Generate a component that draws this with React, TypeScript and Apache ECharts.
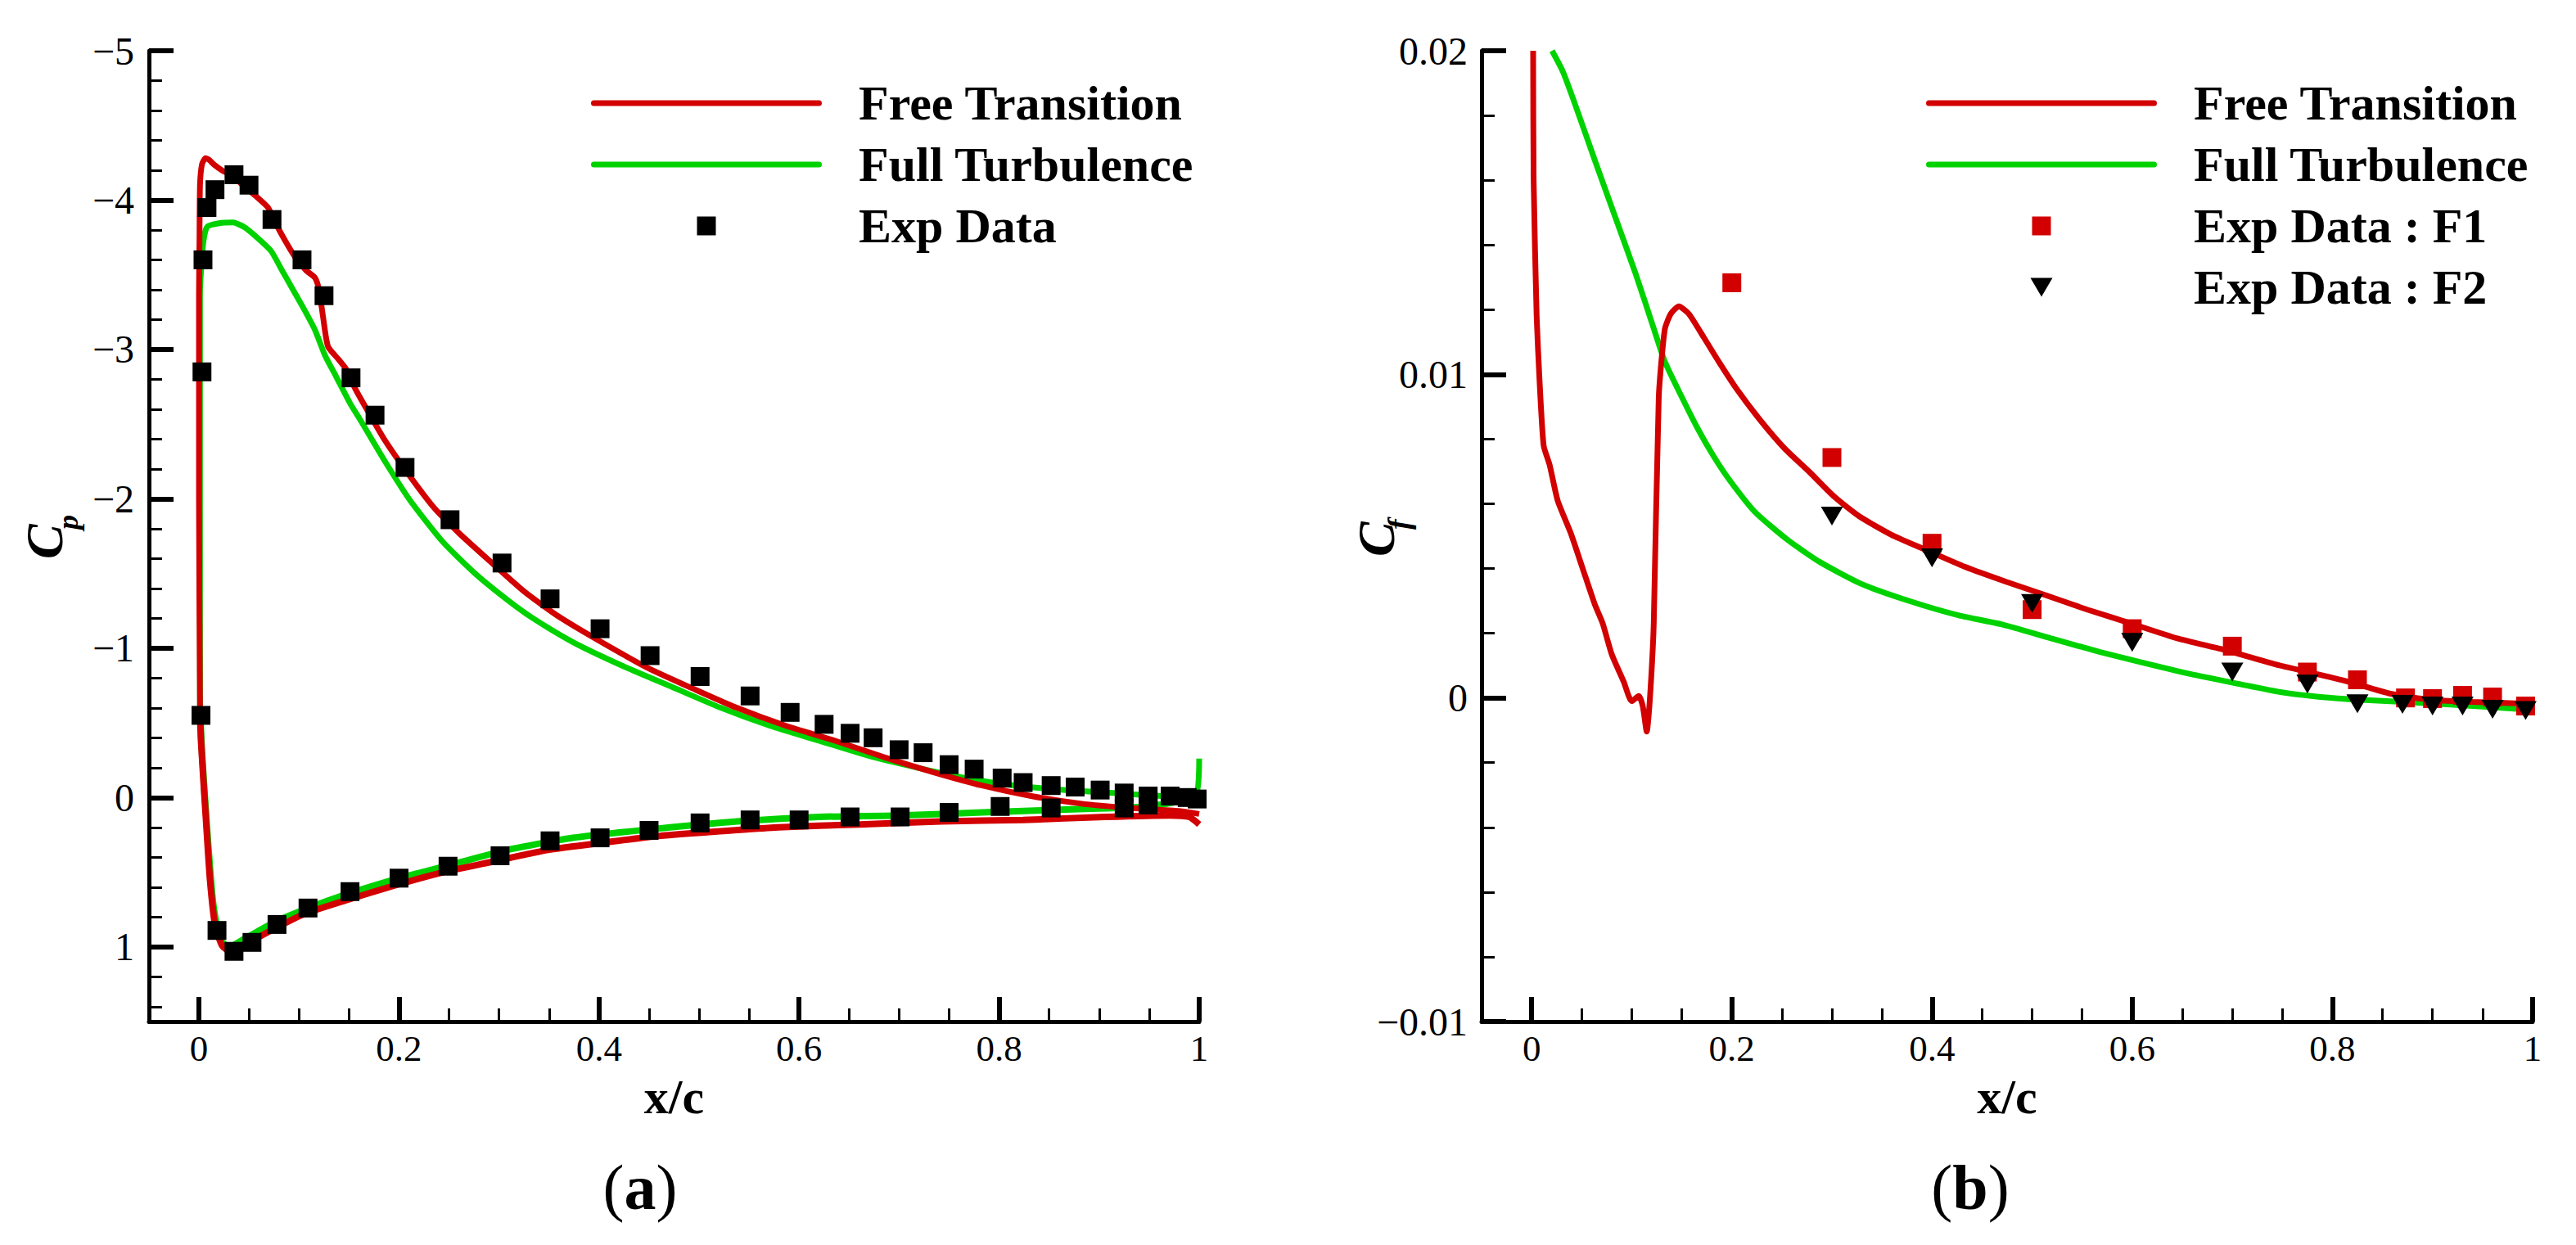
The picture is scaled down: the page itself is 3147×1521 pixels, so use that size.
import React, { useEffect, useRef } from "react";
import * as echarts from "echarts";

const W = 3147;
const H = 1521;
const RED = "#d20000";
const GREEN = "#00d200";
const FONT = "'Liberation Serif', 'Times New Roman', serif";

// ---- tick values ----
const xMajorTicks = [0, 0.2, 0.4, 0.6, 0.8, 1];
const xMinorTicks = [0.05, 0.1, 0.15, 0.25, 0.3, 0.35, 0.45, 0.5, 0.55, 0.65, 0.7, 0.75, 0.85, 0.9, 0.95];
const cpMajorTicks = [-5, -4, -3, -2, -1, 0, 1];
const cpMinorTicks = [-4.8, -4.6, -4.4, -4.2, -3.8, -3.6, -3.4, -3.2, -2.8, -2.6, -2.4, -2.2, -1.8, -1.6, -1.4, -1.2, -0.8, -0.6, -0.4, -0.2, 0.2, 0.4, 0.6, 0.8, 1.2, 1.4];
const cfMajorTicks = [-0.01, 0, 0.01, 0.02];
const cfMinorTicks = [-0.008, -0.006, -0.004, -0.002, 0.002, 0.004, 0.006, 0.008, 0.012, 0.014, 0.016, 0.018];

// ---- (a) pressure coefficient ----
const ftCpUpper: [number, number][] = [
  [0.001, -0.6], [0.0, -2.0], [0.0, -3.37], [0.0005, -3.73], [0.001, -4.1], [0.003, -4.24], [0.0065, -4.28],
  [0.01, -4.27], [0.0147, -4.24], [0.0229, -4.2], [0.034, -4.16], [0.047, -4.08], [0.058, -4.02], [0.069, -3.95],
  [0.077, -3.84], [0.086, -3.73], [0.096, -3.62], [0.107, -3.53], [0.116, -3.48], [0.12, -3.4], [0.124, -3.22],
  [0.129, -3.02], [0.14, -2.93], [0.147, -2.87], [0.156, -2.74], [0.166, -2.62], [0.186, -2.39], [0.211, -2.15],
  [0.235, -1.94], [0.26, -1.77], [0.293, -1.57], [0.325, -1.38], [0.36, -1.21], [0.4, -1.05], [0.448, -0.87],
  [0.497, -0.72], [0.538, -0.6], [0.587, -0.48], [0.636, -0.38], [0.685, -0.27], [0.734, -0.17], [0.783, -0.08],
  [0.832, -0.01], [0.881, 0.04], [0.93, 0.07], [0.98, 0.09], [1.0, 0.11],
];
const ftCpLower: [number, number][] = [
  [1.0, 0.18], [0.99, 0.13], [0.971, 0.12], [0.906, 0.13], [0.824, 0.15], [0.742, 0.16], [0.661, 0.18],
  [0.579, 0.2], [0.513, 0.23], [0.456, 0.26], [0.407, 0.3], [0.35, 0.35], [0.293, 0.43], [0.244, 0.5],
  [0.195, 0.59], [0.146, 0.69], [0.105, 0.78], [0.072, 0.89], [0.047, 0.98], [0.031, 1.03], [0.023, 0.99],
  [0.016, 0.85], [0.011, 0.55], [0.007, 0.15], [0.002, -0.38], [0.001, -0.6],
];
const fullCpUpper: [number, number][] = [
  [0.001, -0.6], [0.001, -2.64], [0.001, -3.37], [0.004, -3.7], [0.008, -3.82], [0.02, -3.845], [0.034, -3.85],
  [0.045, -3.82], [0.058, -3.75], [0.072, -3.66], [0.083, -3.53], [0.094, -3.4], [0.105, -3.27], [0.116, -3.13],
  [0.126, -2.96], [0.137, -2.82], [0.151, -2.64], [0.162, -2.52], [0.186, -2.25], [0.211, -1.99], [0.244, -1.71],
  [0.276, -1.5], [0.309, -1.32], [0.334, -1.2], [0.374, -1.04], [0.424, -0.88], [0.473, -0.74], [0.522, -0.6],
  [0.571, -0.48], [0.62, -0.38], [0.669, -0.28], [0.718, -0.2], [0.767, -0.13], [0.816, -0.08], [0.866, -0.05],
  [0.914, -0.03], [0.963, -0.01], [0.996, 0.0], [1.0, -0.26],
];
const fullCpLower: [number, number][] = [
  [1.0, 0.0], [0.948, 0.06], [0.866, 0.08], [0.783, 0.1], [0.7, 0.12], [0.62, 0.13], [0.538, 0.16],
  [0.456, 0.21], [0.374, 0.27], [0.309, 0.35], [0.252, 0.45], [0.195, 0.55], [0.129, 0.69], [0.08, 0.82],
  [0.047, 0.94], [0.03, 1.0], [0.021, 0.95], [0.014, 0.7], [0.008, 0.2], [0.003, -0.3], [0.001, -0.6],
];
const expCp: [number, number][] = [
  [0.003, -2.85], [0.004, -3.6], [0.008, -3.95], [0.016, -4.07], [0.035, -4.17], [0.05, -4.1], [0.073, -3.87],
  [0.103, -3.6], [0.125, -3.36], [0.152, -2.81], [0.176, -2.56], [0.206, -2.21], [0.251, -1.86], [0.303, -1.57],
  [0.351, -1.33], [0.401, -1.13], [0.451, -0.95], [0.501, -0.81], [0.551, -0.68], [0.591, -0.57], [0.625, -0.49],
  [0.651, -0.43], [0.674, -0.4], [0.7, -0.32], [0.724, -0.3], [0.75, -0.22], [0.775, -0.19], [0.803, -0.13],
  [0.824, -0.1], [0.852, -0.08], [0.876, -0.07], [0.901, -0.05], [0.925, -0.03], [0.949, -0.01], [0.971, -0.01],
  [0.988, 0.0], [0.998, 0.01],
  [0.002, -0.55], [0.018, 0.89], [0.035, 1.03], [0.053, 0.97], [0.078, 0.85], [0.109, 0.74], [0.151, 0.63],
  [0.2, 0.54], [0.249, 0.46], [0.301, 0.39], [0.351, 0.29], [0.401, 0.27], [0.45, 0.22], [0.501, 0.17],
  [0.551, 0.15], [0.6, 0.15], [0.651, 0.13], [0.701, 0.13], [0.75, 0.1], [0.801, 0.06], [0.852, 0.07],
  [0.925, 0.07], [0.949, 0.05],
];

// ---- (b) skin friction coefficient ----
const ftCf: [number, number][] = [
  [0.0015, 0.02], [0.002, 0.016], [0.005, 0.0118], [0.008, 0.00975], [0.012, 0.0078], [0.018, 0.0072],
  [0.026, 0.0061], [0.039, 0.0051], [0.051, 0.004], [0.063, 0.0029], [0.071, 0.0023], [0.08, 0.00135],
  [0.092, 0.0005], [0.1, -0.0001], [0.107, 0.00006], [0.111, -0.00025], [0.115, -0.00104], [0.118, -0.0001],
  [0.122, 0.0023], [0.127, 0.0093], [0.133, 0.01139], [0.139, 0.01187], [0.147, 0.0121], [0.157, 0.01187],
  [0.172, 0.01114], [0.188, 0.01034], [0.205, 0.00954], [0.229, 0.00856], [0.253, 0.0077], [0.278, 0.00697],
  [0.302, 0.00623], [0.327, 0.00562], [0.359, 0.00505], [0.392, 0.0046], [0.433, 0.00405], [0.474, 0.00359],
  [0.515, 0.00316], [0.555, 0.00273], [0.596, 0.00233], [0.645, 0.00184], [0.694, 0.00147], [0.743, 0.00104],
  [0.784, 0.00074], [0.817, 0.00049], [0.858, 0.00013], [0.899, -0.00006], [0.94, -0.00012], [0.993, -0.00018],
  [1.0, -0.0002],
];
const fullCf: [number, number][] = [
  [0.0204, 0.02], [0.031, 0.01937], [0.043, 0.01838], [0.064, 0.01654], [0.084, 0.01482], [0.104, 0.0131],
  [0.121, 0.01151], [0.133, 0.0104], [0.15, 0.0093], [0.166, 0.00832], [0.182, 0.00746], [0.198, 0.00672],
  [0.223, 0.00575], [0.256, 0.00488], [0.288, 0.0042], [0.329, 0.00353], [0.378, 0.00299], [0.427, 0.00255],
  [0.47, 0.00227], [0.519, 0.00184], [0.568, 0.00142], [0.609, 0.0011], [0.658, 0.00074], [0.707, 0.00043],
  [0.748, 0.00018], [0.788, 0.00003], [0.829, -0.00006], [0.911, -0.00019], [1.0, -0.00037],
];
const expF1: [number, number][] = [
  [0.2, 0.01283], [0.3, 0.00743], [0.4, 0.00478], [0.5, 0.00273], [0.6, 0.00214], [0.7, 0.0016],
  [0.775, 0.0008], [0.825, 0.00056], [0.873, 0.0], [0.9, -0.00002], [0.93, 0.00008], [0.96, 0.00003],
  [0.993, -0.00025],
];
const expF2: [number, number][] = [
  [0.3, 0.00562], [0.4, 0.00433], [0.5, 0.00292], [0.6, 0.00172], [0.7, 0.0008], [0.775, 0.00043],
  [0.825, -0.00018], [0.87, -0.0002], [0.9, -0.00025], [0.93, -0.00025], [0.96, -0.00035], [0.993, -0.00039],
];

const LINE_ICON = "path://M3.5 0H278.5A3.5 3.5 0 0 1 278.5 7H3.5A3.5 3.5 0 0 1 3.5 0Z";
const SQUARE_ICON = "path://M0 0H23V23H0Z";
const TRI_ICON = "path://M0 0L27 0L13.5 23Z";

const fmt = (v: number) => (v < 0 ? "\u2212" + String(-v) : String(v));

function xAxes(grid: number) {
  const base = {
    type: "value" as const,
    gridIndex: grid,
    min: -0.05,
    max: 1,
    position: "bottom" as const,
    splitLine: { show: false },
    minorTick: { show: false },
  };
  return [
    {
      ...base,
      axisLine: { show: true, onZero: false, lineStyle: { color: "#000", width: 5 } },
      axisTick: { show: true, inside: true, length: 30, customValues: xMajorTicks, lineStyle: { color: "#000", width: 6 } },
      axisLabel: { show: true, customValues: xMajorTicks, margin: 10, fontSize: 45, fontFamily: FONT, color: "#000", formatter: fmt },
      name: "x/c",
      nameLocation: "middle" as const,
      nameGap: 62,
      nameTextStyle: { fontSize: 60, fontWeight: "bold" as const, fontFamily: FONT, color: "#000" },
    },
    {
      ...base,
      axisLine: { show: false, onZero: false },
      axisTick: { show: true, inside: true, length: 16, customValues: xMinorTicks, lineStyle: { color: "#000", width: 3 } },
      axisLabel: { show: false },
    },
  ];
}

function yAxes(grid: number, min: number, max: number, inverse: boolean, major: number[], minor: number[], margin: number) {
  const base = {
    type: "value" as const,
    gridIndex: grid,
    min,
    max,
    inverse,
    position: "left" as const,
    splitLine: { show: false },
    minorTick: { show: false },
  };
  return [
    {
      ...base,
      axisLine: { show: true, onZero: false, lineStyle: { color: "#000", width: 5 } },
      axisTick: { show: true, inside: true, length: 30, customValues: major, lineStyle: { color: "#000", width: 6 } },
      axisLabel: { show: true, customValues: major, margin, fontSize: 48, fontFamily: FONT, color: "#000", formatter: fmt },
    },
    {
      ...base,
      axisLine: { show: false, onZero: false },
      axisTick: { show: true, inside: true, length: 16, customValues: minor, lineStyle: { color: "#000", width: 3 } },
      axisLabel: { show: false },
    },
  ];
}

const legendText = {
  fontFamily: FONT,
  fontSize: 60,
  fontWeight: "bold" as const,
  color: "#000",
  lineHeight: 60,
  padding: [0, 0, 0, 40],
};

function legendBox(left: number, data: { name: string; icon: string }[]) {
  return {
    left,
    top: 96,
    orient: "vertical" as const,
    padding: 0,
    itemGap: 15,
    itemWidth: 282,
    itemHeight: 23,
    selectedMode: false,
    symbolKeepAspect: true,
    itemStyle: { borderWidth: 0, opacity: 1 },
    textStyle: legendText,
    data,
  };
}

function yTitle(x: number, y: number, sub: string, subDx: number, subDy: number, subSize: number) {
  return {
    type: "group",
    x,
    y,
    rotation: Math.PI / 2,
    children: [
      {
        type: "text",
        x: 0,
        y: 0,
        style: { text: "C", fontSize: 64, fontFamily: FONT, fontStyle: "italic", fontWeight: "bold", fill: "#000", align: "left", verticalAlign: "middle" },
      },
      {
        type: "text",
        x: subDx,
        y: subDy,
        style: { text: sub, fontSize: subSize, fontFamily: FONT, fontStyle: "italic", fontWeight: "bold", fill: "#000", align: "left", verticalAlign: "middle" },
      },
    ],
  };
}

function caption(x: number, letter: string) {
  return {
    type: "text",
    x,
    y: 1450,
    style: {
      text: "{r|(}{b|" + letter + "}{r|)}",
      align: "center",
      verticalAlign: "middle",
      rich: {
        r: { fontSize: 78, fontFamily: FONT, fill: "#000" },
        b: { fontSize: 78, fontFamily: FONT, fontWeight: "bold", fill: "#000" },
      },
    },
  };
}

export default function App() {
  const ref = useRef<HTMLDivElement>(null);
  useEffect(() => {
    document.body.style.margin = "0";
    if (!ref.current) return;
    const chart = echarts.init(ref.current, undefined, { renderer: "svg", width: W, height: H });
    const lineBase = { type: "line" as const, showSymbol: false, symbol: "none", smooth: 0.2, clip: true };
    const option: any = {
      animation: false,
      backgroundColor: "#fff",
      grid: [
        { left: 182, top: 62, width: 1283, height: 1186, outerBoundsMode: "none", containLabel: false },
        { left: 1810, top: 62, width: 1284, height: 1186, outerBoundsMode: "none", containLabel: false },
      ],
      xAxis: [...xAxes(0), ...xAxes(1)],
      yAxis: [
        ...yAxes(0, -5, 1.5, true, cpMajorTicks, cpMinorTicks, 18),
        ...yAxes(1, -0.01, 0.02, false, cfMajorTicks, cfMinorTicks, 17),
      ],
      legend: [
        legendBox(722, [
          { name: "Free Transition", icon: LINE_ICON },
          { name: "Full Turbulence", icon: LINE_ICON },
          { name: "Exp Data", icon: SQUARE_ICON },
        ]),
        legendBox(2353, [
          { name: "Free Transition", icon: LINE_ICON },
          { name: "Full Turbulence", icon: LINE_ICON },
          { name: "Exp Data : F1", icon: SQUARE_ICON },
          { name: "Exp Data : F2", icon: TRI_ICON },
        ]),
      ],
      series: [
        { ...lineBase, name: "Full Turbulence", xAxisIndex: 0, yAxisIndex: 0, data: fullCpLower, lineStyle: { color: GREEN, width: 8 }, itemStyle: { color: GREEN } },
        { ...lineBase, name: "Free Transition", xAxisIndex: 0, yAxisIndex: 0, data: ftCpLower, lineStyle: { color: RED, width: 8 }, itemStyle: { color: RED } },
        { ...lineBase, name: "Full Turbulence", xAxisIndex: 0, yAxisIndex: 0, data: fullCpUpper, lineStyle: { color: GREEN, width: 7 }, itemStyle: { color: GREEN } },
        { ...lineBase, name: "Free Transition", xAxisIndex: 0, yAxisIndex: 0, data: ftCpUpper, lineStyle: { color: RED, width: 7 }, itemStyle: { color: RED } },
        { type: "scatter", name: "Exp Data", xAxisIndex: 0, yAxisIndex: 0, data: expCp, symbol: "rect", symbolSize: 23, itemStyle: { color: "#000", opacity: 1 }, z: 4 },
        { ...lineBase, name: "Full Turbulence", xAxisIndex: 2, yAxisIndex: 2, data: fullCf, lineStyle: { color: GREEN, width: 7 }, itemStyle: { color: GREEN } },
        { ...lineBase, name: "Free Transition", xAxisIndex: 2, yAxisIndex: 2, data: ftCf, lineStyle: { color: RED, width: 7 }, itemStyle: { color: RED } },
        { type: "scatter", name: "Exp Data : F1", xAxisIndex: 2, yAxisIndex: 2, data: expF1, symbol: "rect", symbolSize: 23, itemStyle: { color: RED, opacity: 1 }, z: 4 },
        { type: "scatter", name: "Exp Data : F2", xAxisIndex: 2, yAxisIndex: 2, data: expF2, symbol: "triangle", symbolRotate: 180, symbolSize: [27, 23], itemStyle: { color: "#000", opacity: 1 }, z: 5 },
      ],
      graphic: [
        yTitle(54.5, 683, "p", 36, 28, 36),
        yTitle(1681.5, 680, "f", 33, 27, 38),
        caption(782, "a"),
        caption(2407, "b"),
      ],
    };
    chart.setOption(option);
    return () => chart.dispose();
  }, []);
  return <div ref={ref} style={{ width: W, height: H, background: "#fff" }} />;
}
